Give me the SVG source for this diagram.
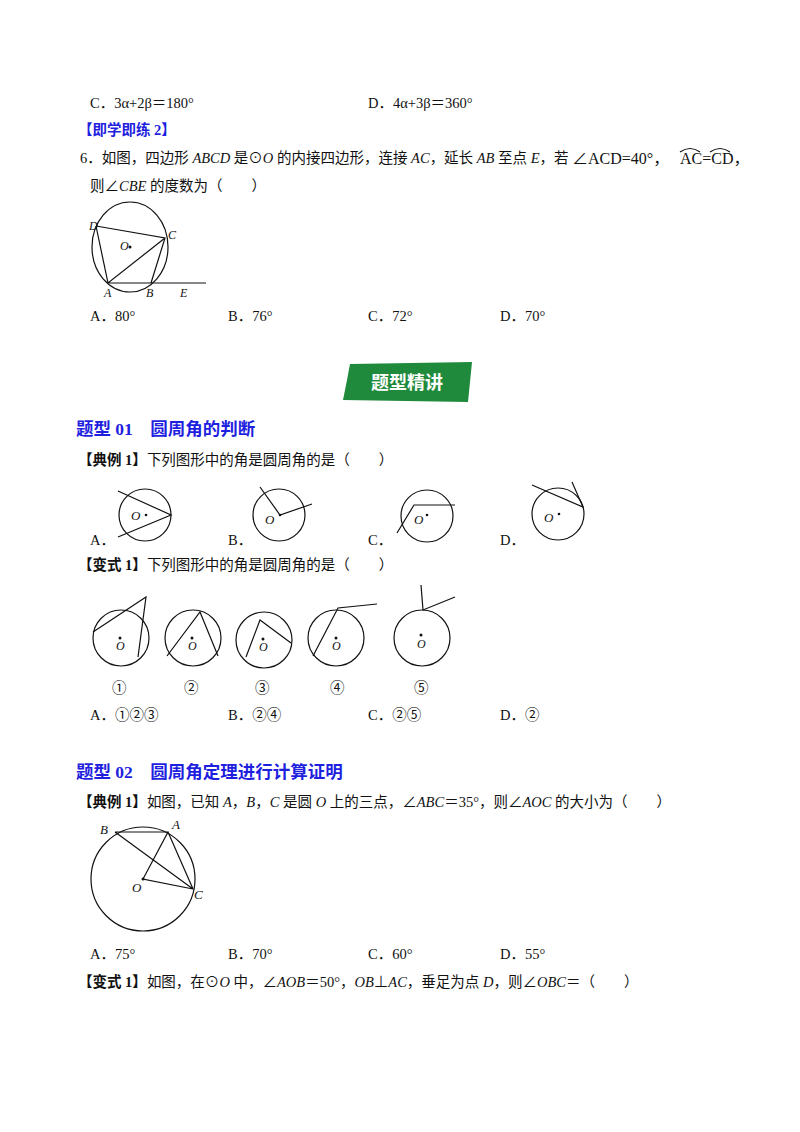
<svg xmlns="http://www.w3.org/2000/svg" width="800" height="1132" viewBox="0 0 800 1132">
<style>
text{font-family:"Liberation Serif","Noto Sans CJK SC",serif;font-size:14.5px;fill:#111}
.h{fill:#1f1fe0;font-weight:bold}
.t{font-size:17.5px}
.l{font-style:italic;font-size:12px}
.g{fill:none;stroke:#111;stroke-width:1.2}
</style>
<rect width="800" height="1132" fill="#fff"/>
<text x="90" y="108">C．3α+2β＝180°</text>
<text x="368" y="108">D．4α+3β＝360°</text>
<text x="78" y="135" class="h">【即学即练 2】</text>
<text x="80" y="163">6．如图，四边形 <tspan font-style="italic">ABCD</tspan> 是⊙<tspan font-style="italic">O</tspan> 的内接四边形，连接 <tspan font-style="italic">AC</tspan>，延长 <tspan font-style="italic">AB</tspan> 至点 <tspan font-style="italic">E</tspan>，若</text>
<text x="572" y="164" style="font-size:16px">∠ACD=40°，</text>
<text x="680" y="164" style="font-size:16px">AC=CD，</text>
<path class="g" d="M680 152 Q690 145 700 152 M710 152 Q720 145 730 152" stroke-width="0.9"/>
<text x="90" y="191">则∠<tspan font-style="italic">CBE</tspan> 的度数为（　　）</text>
<g id="fig1">
<ellipse class="g" cx="130" cy="247" rx="38" ry="45"/>
<path class="g" d="M96 226 L165 238 L151 283 M96 226 L108 283 L165 238 M108 283 L206 283"/>
<circle cx="130" cy="247" r="1.5" fill="#111"/>
<text class="l" x="89" y="230">D</text><text class="l" x="168" y="239">C</text>
<text class="l" x="120" y="250">O</text>
<text class="l" x="104" y="297">A</text><text class="l" x="146" y="297">B</text><text class="l" x="180" y="297">E</text>
</g>
<text x="90" y="321">A．80°</text><text x="228" y="321">B．76°</text><text x="368" y="321">C．72°</text><text x="500" y="321">D．70°</text>
<g id="banner">
<path d="M350 364 L472 362 L468 402 L343 400 L347 380 Z" fill="#1f8a3c"/>
<text x="407" y="389" text-anchor="middle" style="fill:#fff;font-weight:bold;font-size:18px">题型精讲</text>
</g>
<text x="76" y="435" class="h t">题型 01　圆周角的判断</text>
<text x="78" y="465"><tspan font-weight="bold">【典例 1】</tspan>下列图形中的角是圆周角的是（　　）</text>
<g id="row1">
<circle class="g" cx="145" cy="515" r="26"/>
<path class="g" d="M118 491 L171 515 L118 537"/>
<circle cx="146" cy="515" r="1.3" fill="#111"/><text class="l" x="131" y="520" style="font-size:13px">O</text>
<circle class="g" cx="279" cy="515" r="26"/>
<path class="g" d="M260 487 L280 515 L312 504"/>
<circle cx="280" cy="515" r="1.3" fill="#111"/><text class="l" x="265" y="524" style="font-size:13px">O</text>
<circle class="g" cx="427" cy="516" r="26"/>
<path class="g" d="M397 533 L414 505 L455 505"/>
<circle cx="427" cy="515" r="1.3" fill="#111"/><text class="l" x="414" y="524" style="font-size:13px">O</text>
<circle class="g" cx="558" cy="514" r="26"/>
<path class="g" d="M532 485 L583 507 L572 482"/>
<circle cx="559" cy="514" r="1.3" fill="#111"/><text class="l" x="544" y="522" style="font-size:13px">O</text>
</g>
<text x="90" y="545">A．</text><text x="228" y="545">B．</text><text x="368" y="545">C．</text><text x="500" y="545">D．</text>
<text x="78" y="570"><tspan font-weight="bold">【变式 1】</tspan>下列图形中的角是圆周角的是（　　）</text>
<g id="row2">
<circle class="g" cx="121" cy="638" r="28"/><path class="g" d="M93 632 L146 597 L138 657"/>
<circle cx="120" cy="638" r="1.5" fill="#111"/><text class="l" x="116" y="650">O</text>
<circle class="g" cx="193" cy="638" r="28"/><path class="g" d="M167 656 L200 612 L218 656"/>
<circle cx="192" cy="638" r="1.5" fill="#111"/><text class="l" x="188" y="650">O</text>
<circle class="g" cx="264" cy="640" r="28"/><path class="g" d="M246 657 L260 620 L291 643"/>
<circle cx="263" cy="639" r="1.5" fill="#111"/><text class="l" x="259" y="651">O</text>
<circle class="g" cx="336" cy="638" r="28"/><path class="g" d="M313 656 L338 608 L377 604"/>
<circle cx="336" cy="638" r="1.5" fill="#111"/><text class="l" x="332" y="650">O</text>
<circle class="g" cx="422" cy="638" r="28"/><path class="g" d="M421 585 L423 610 L455 597"/>
<circle cx="421" cy="635" r="1.5" fill="#111"/><text class="l" x="417" y="648">O</text>
</g>
<text x="112" y="693">①</text><text x="184" y="693">②</text><text x="255" y="693">③</text><text x="330" y="693">④</text><text x="414" y="693">⑤</text>
<text x="90" y="720">A．①②③</text><text x="228" y="720">B．②④</text><text x="368" y="720">C．②⑤</text><text x="500" y="720">D．②</text>
<text x="76" y="778" class="h t">题型 02　圆周角定理进行计算证明</text>
<text x="78" y="807"><tspan font-weight="bold">【典例 1】</tspan>如图，已知 <tspan font-style="italic">A</tspan>，<tspan font-style="italic">B</tspan>，<tspan font-style="italic">C</tspan> 是圆 <tspan font-style="italic">O</tspan> 上的三点，∠<tspan font-style="italic">ABC</tspan>＝35°，则∠<tspan font-style="italic">AOC</tspan> 的大小为（　　）</text>
<g id="fig3">
<circle class="g" cx="143" cy="879" r="52"/>
<path class="g" d="M115 832 L168 832 L143 879 L193 889 L168 832 M115 832 L193 889"/>
<circle cx="143" cy="879" r="1.5" fill="#111"/>
<text class="l" x="100" y="834" style="font-size:13px">B</text><text class="l" x="172" y="829" style="font-size:13px">A</text>
<text class="l" x="132" y="892" style="font-size:13px">O</text><text class="l" x="194" y="899" style="font-size:13px">C</text>
</g>
<text x="90" y="959">A．75°</text><text x="228" y="959">B．70°</text><text x="368" y="959">C．60°</text><text x="500" y="959">D．55°</text>
<text x="78" y="987"><tspan font-weight="bold">【变式 1】</tspan>如图，在⊙<tspan font-style="italic">O</tspan> 中，∠<tspan font-style="italic">AOB</tspan>＝50°，<tspan font-style="italic">OB</tspan>⊥<tspan font-style="italic">AC</tspan>，垂足为点 <tspan font-style="italic">D</tspan>，则∠<tspan font-style="italic">OBC</tspan>＝（　　）</text>
</svg>
